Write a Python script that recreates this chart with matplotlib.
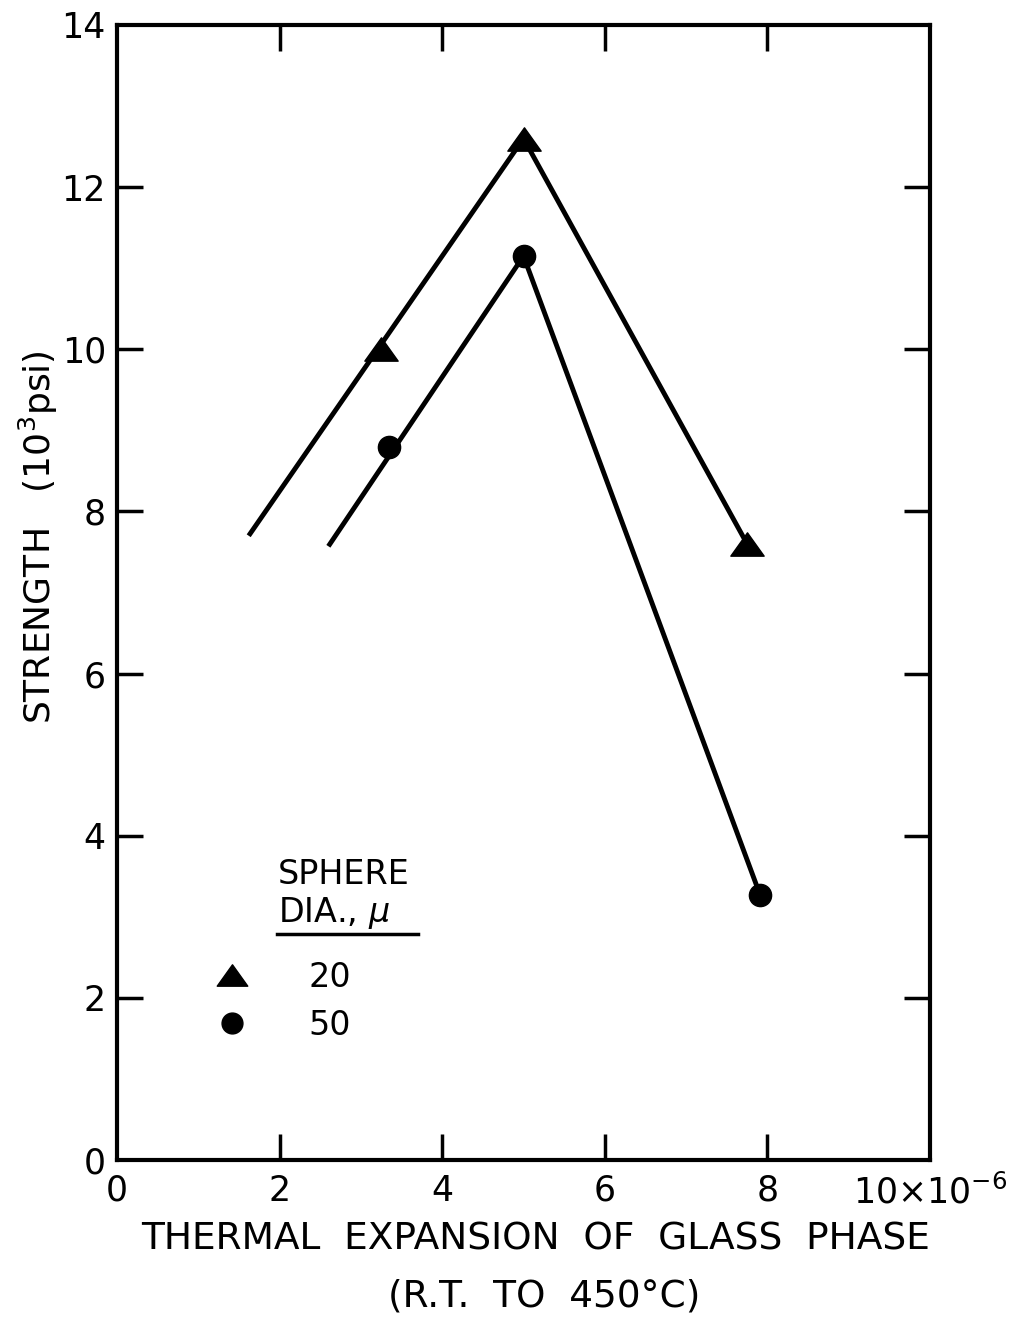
import matplotlib
matplotlib.use("Agg")
import matplotlib.pyplot as plt
from matplotlib.lines import Line2D
from matplotlib.path import Path

# ---- data ----
tri_x = [3.25, 5.0, 7.75]          # 20 micron spheres
tri_y = [10.0, 12.6, 7.6]
circ_x = [3.34, 5.0, 7.91]         # 50 micron spheres
circ_y = [8.8, 11.15, 3.27]
tri_line_x = [1.62, 5.0, 7.75]     # drawn curve through 20 micron points
tri_line_y = [7.7, 12.6, 7.6]
circ_line_x = [2.6, 5.0, 7.91]     # drawn curve through 50 micron points
circ_line_y = [7.57, 11.15, 3.27]
x_ticks = [0, 2, 4, 6, 8, 10]
x_tick_labels = ["0", "2", "4", "6", "8", r"10$\times$10$^{-6}$"]
y_ticks = [0, 2, 4, 6, 8, 10, 12, 14]
y_tick_labels = ["0", "2", "4", "6", "8", "10", "12", "14"]
legend_labels = ["20", "50"]

plt.rcParams['font.family'] = ['DejaVu Sans']
plt.rcParams['mathtext.fontset'] = 'dejavusans'

W, H = 1012, 1334
fig = plt.figure(figsize=(W / 100, H / 100), dpi=100)
ax = fig.add_axes([117 / W, 1 - 1160 / H, 813 / W, 1135 / H])

tri_marker = Path([(0, 0.7), (-1, -0.7), (1, -0.7), (0, 0.7)],
                  [Path.MOVETO, Path.LINETO, Path.LINETO, Path.CLOSEPOLY])

lw = 3.5
ax.plot(tri_line_x, tri_line_y, color='black', lw=lw, solid_capstyle='butt', zorder=2)
ax.plot(circ_line_x, circ_line_y, color='black', lw=lw, solid_capstyle='butt', zorder=2)
ax.plot(tri_x, tri_y, linestyle='none', marker=tri_marker, markersize=24,
        color='black', zorder=3)
ax.plot(circ_x, circ_y, linestyle='none', marker='o', markersize=16,
        color='black', zorder=3)

ax.set_xlim(0, 10)
ax.set_ylim(0, 14)

for s in ax.spines.values():
    s.set_linewidth(3)

ax.set_xticks(x_ticks)
ax.set_xticklabels(x_tick_labels)
ax.set_yticks(y_ticks)
ax.set_yticklabels(y_tick_labels)
ax.tick_params(axis='both', direction='in', length=19, width=2.5,
               top=True, right=True, labelsize=25)
ax.tick_params(axis='x', pad=10)
ax.tick_params(axis='y', pad=8)
# hide ticks at the corners (only label them)
for t in ax.xaxis.get_major_ticks():
    if t.get_loc() in (0, 10):
        t.tick1line.set_visible(False)
        t.tick2line.set_visible(False)
for t in ax.yaxis.get_major_ticks():
    if t.get_loc() in (0, 14):
        t.tick1line.set_visible(False)
        t.tick2line.set_visible(False)

# axis labels
fig.text(536 / W, 1 - 1240 / H, "THERMAL  EXPANSION  OF  GLASS  PHASE",
         ha='center', va='center', fontsize=27)
fig.text(544 / W, 1 - 1297 / H, "(R.T.  TO  450°C)",
         ha='center', va='center', fontsize=27)
fig.text(38 / W, 1 - 537 / H, r"STRENGTH   (10$^3$psi)",
         ha='center', va='center', rotation=90, fontsize=26)

# legend
ax.text((278 - 117) / 813, (1160 - 875) / 1135, "SPHERE",
        transform=ax.transAxes, ha='left', va='center', fontsize=24)
ax.text((278 - 117) / 813, (1160 - 913) / 1135, r"DIA., $\mu$",
        transform=ax.transAxes, ha='left', va='center', fontsize=24)
ax.add_line(Line2D([(277 - 117) / 813, (418 - 117) / 813],
                   [(1160 - 934) / 1135, (1160 - 934) / 1135],
                   transform=ax.transAxes, color='black', lw=2.5))
handles = [Line2D([], [], linestyle='none', marker=tri_marker, markersize=22, color='black'),
           Line2D([], [], linestyle='none', marker='o', markersize=15, color='black')]
ax.legend(handles, legend_labels, loc='upper left',
          bbox_to_anchor=((215 - 117) / 813, (1160 - 961) / 1135),
          frameon=False, fontsize=24, handlelength=1.0, handletextpad=1.8,
          labelspacing=0.45, borderpad=0, borderaxespad=0)

fig.savefig("out.png", dpi=100, facecolor='white')
